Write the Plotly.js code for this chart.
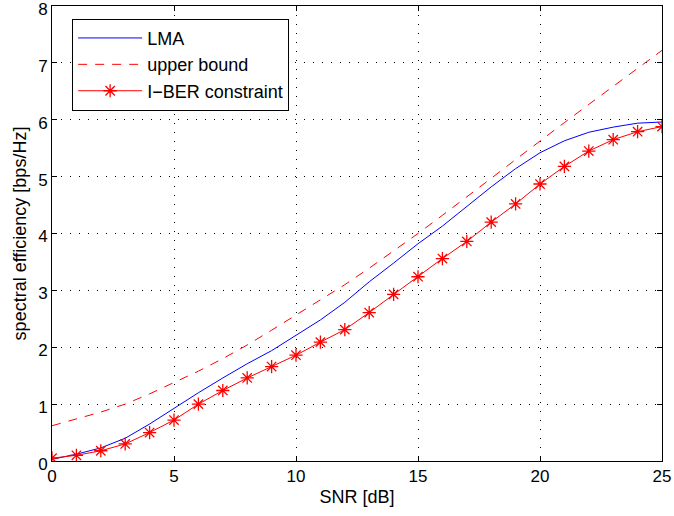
<!DOCTYPE html>
<html><head><meta charset="utf-8">
<script src="https://cdn.plot.ly/plotly-3.0.1.min.js"></script>
<style>body{margin:0;padding:0;background:#fff}#chart{width:674px;height:516px}</style>
</head><body><div id="chart"></div>
<script>
const snr = [0,1,2,3,4,5,6,7,8,9,10,11,12,13,14,15,16,17,18,19,20,21,22,23,24,25];
const lma = [0.03,0.12,0.23,0.4,0.65,0.93,1.2,1.46,1.71,1.94,2.21,2.48,2.79,3.15,3.48,3.82,4.13,4.48,4.82,5.14,5.42,5.63,5.78,5.87,5.94,5.96];
const upper = [0.62,0.74,0.86,1.0,1.18,1.38,1.58,1.8,2.04,2.3,2.57,2.83,3.1,3.39,3.69,4.0,4.32,4.64,4.97,5.3,5.63,5.95,6.27,6.59,6.9,7.22];
const iber = [0.05,0.1,0.18,0.3,0.5,0.72,1.0,1.24,1.46,1.66,1.86,2.09,2.31,2.61,2.93,3.24,3.56,3.86,4.2,4.52,4.87,5.18,5.45,5.65,5.79,5.88];
const names = ['LMA','upper bound','I\u2212BER constraint'];
const xTicks = [0,5,10,15,20,25];
const yTicks = [0,1,2,3,4,5,6,7,8];

const fam = 'Liberation Sans, Arial, Helvetica, sans-serif';
const tickFont = {family:fam, size:17, color:'#000'};
const titleFont = {family:fam, size:18, color:'#000'};
const legFont = {family:fam, size:18, color:'#000'};
const traces = [
  {x:snr, y:lma, name:names[0], mode:'lines', line:{color:'#0000ff', width:1}},
  {x:snr, y:upper, name:names[1], mode:'lines', line:{color:'#ff0000', width:1, dash:'9px,8px'}},
  {x:snr, y:iber, name:names[2], mode:'lines+markers', line:{color:'#ff0000', width:1},
   marker:{symbol:'asterisk-open', size:11, color:'#ff0000', line:{color:'#ff0000', width:1.3}}}
];
const axisCommon = {
  showline:true, linecolor:'#000', linewidth:1, mirror:'ticks',
  ticks:'inside', ticklen:5, tickcolor:'#000', tickwidth:1,
  showgrid:true, gridcolor:'#000', gridwidth:1, griddash:'1px,8px',
  zeroline:false, tickfont:tickFont, ticklabeloverflow:'allow'
};
const layout = {
  width:674, height:516,
  margin:{l:52, r:12, t:6, b:55},
  paper_bgcolor:'#fff', plot_bgcolor:'#fff',
  font:tickFont,
  showlegend:true,
  legend:{x:0.033, y:0.972, xanchor:'left', yanchor:'top', bgcolor:'#fff',
          bordercolor:'#000', borderwidth:1, font:legFont, itemwidth:64, tracegroupgap:0},
  xaxis:Object.assign({}, axisCommon, {range:[0,25], tickvals:xTicks, ticktext:xTicks.map(String),
          title:{text:'SNR [dB]', font:titleFont, standoff:4}}),
  yaxis:Object.assign({}, axisCommon, {range:[0,8], tickvals:yTicks, ticktext:yTicks.map(String),
          ticklabelshift:3,
          title:{text:'spectral efficiency [bps/Hz]', font:titleFont, standoff:6}})
};
Plotly.newPlot('chart', traces, layout, {displayModeBar:false, staticPlot:true});
</script></body></html>
